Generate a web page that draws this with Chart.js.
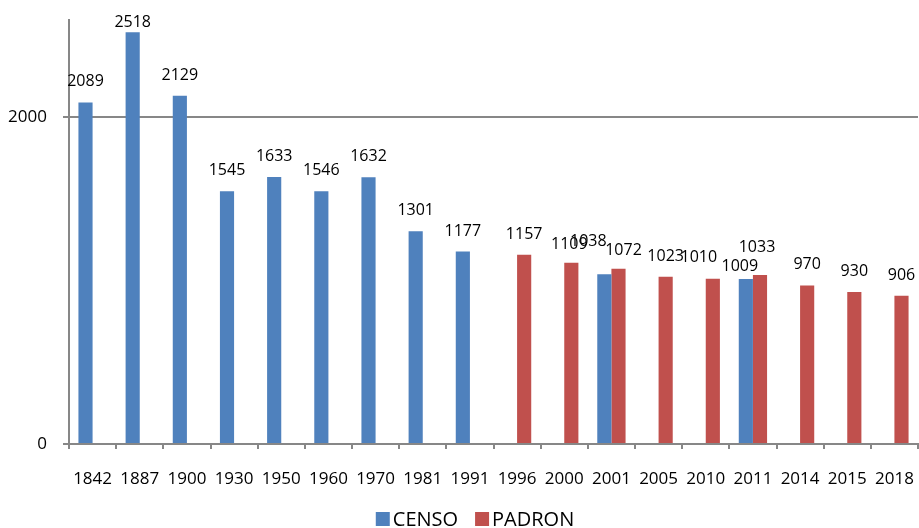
<!DOCTYPE html>
<html>
<head>
<meta charset="utf-8">
<script src="https://cdn.jsdelivr.net/npm/chart.js@4/dist/chart.umd.min.js"></script>
<style>
html,body{margin:0;padding:0;background:#fff;overflow:hidden}
#wrap{width:919px;height:528px;position:relative}
</style>
</head>
<body>
<div id="wrap"><canvas id="c" width="919" height="528"></canvas></div>
<script>
// ---- data ----
const categories = ['1842','1887','1900','1930','1950','1960','1970','1981','1991','1996','2000','2001','2005','2010','2011','2014','2015','2018'];
const censoValues  = [2089,2518,2129,1545,1633,1546,1632,1301,1177,null,null,1038,null,null,1009,null,null,null];
const padronValues = [null,null,null,null,null,null,null,null,null,1157,1109,1072,1023,1010,1033,970,930,906];
const seriesNames = ['CENSO','PADRON'];
const yTickValues = [0, 2000];
const yAxisMax = 2593;

// label nudges (pixels) for data labels that were moved in the original
const labelNudge = {
  'CENSO|1887': [0, 11],
  'CENSO|2001': [-16, -12],
  'PADRON|2000': [-2, 2],
  'PADRON|2001': [5, 2],
  'PADRON|2010': [-14, -1],
  'CENSO|2011': [-6, 8],
  'PADRON|2011': [-3, -7]
};

const FONT = "'Open Sans', 'Noto Sans', sans-serif";
const AXIS_GREY = '#878787';

const dataLabelPlugin = {
  id: 'dataLabels',
  afterDatasetsDraw(chart) {
    const ctx = chart.ctx;
    ctx.save();
    ctx.font = '16px ' + FONT;
    ctx.fillStyle = '#000';
    ctx.textAlign = 'center';
    ctx.textBaseline = 'alphabetic';
    chart.data.datasets.forEach((ds, di) => {
      const meta = chart.getDatasetMeta(di);
      meta.data.forEach((el, i) => {
        const v = ds.data[i];
        if (v === null || v === undefined) return;
        const key = ds.label + '|' + chart.data.labels[i];
        const n = labelNudge[key] || [0, 0];
        ctx.fillText(String(v), el.x + n[0], el.y - 16 + n[1]);
      });
    });
    ctx.restore();
  }
};

const legendPlugin = {
  id: 'bottomLegend',
  afterDraw(chart) {
    const ctx = chart.ctx;
    ctx.save();
    ctx.font = '20px ' + FONT;
    const box = 14, gap = 3, spacing = 17;
    const items = chart.data.datasets.map(ds => ({label: ds.label, color: ds.backgroundColor, w: ctx.measureText(ds.label).width}));
    let total = 0;
    items.forEach((it, k) => { total += box + gap + it.w + (k ? spacing : 0); });
    let x = 475 - total / 2;
    const yTop = 512;
    ctx.textBaseline = 'alphabetic';
    ctx.textAlign = 'left';
    items.forEach(it => {
      ctx.fillStyle = it.color;
      ctx.fillRect(x, yTop, box, box);
      x += box + gap;
      ctx.fillStyle = '#000';
      ctx.fillText(it.label, x, yTop + box);
      x += it.w + spacing;
    });
    ctx.restore();
  }
};

new Chart(document.getElementById('c'), {
  type: 'bar',
  data: {
    labels: categories,
    datasets: [
      {label: seriesNames[0], data: censoValues, backgroundColor: '#4F81BD', categoryPercentage: 0.6, barPercentage: 1.0},
      {label: seriesNames[1], data: padronValues, backgroundColor: '#C0504D', categoryPercentage: 0.6, barPercentage: 1.0}
    ]
  },
  options: {
    responsive: false,
    animation: false,
    devicePixelRatio: 1,
    layout: {padding: {top: 20, left: 0, right: 1, bottom: 34}},
    plugins: {legend: {display: false}, tooltip: {enabled: false}},
    scales: {
      x: {
        offset: true,
        grid: {display: true, drawOnChartArea: false, drawTicks: true, tickLength: 5, color: AXIS_GREY, lineWidth: 2, offset: true},
        border: {display: true, color: AXIS_GREY, width: 2},
        ticks: {color: '#000', font: {family: FONT, size: 17}, padding: 20, maxRotation: 0, autoSkip: false},
        afterFit(s) { s.height = 50; s.paddingLeft = 0; s.paddingRight = 0; }
      },
      y: {
        min: 0,
        max: yAxisMax,
        afterBuildTicks(s) { s.ticks = yTickValues.map(v => ({value: v})); },
        grid: {color: AXIS_GREY, lineWidth: 2, tickLength: 6, drawTicks: true},
        border: {display: true, color: AXIS_GREY, width: 2},
        ticks: {color: '#000', font: {family: FONT, size: 17}, padding: 16, callback: v => String(v)},
        afterFit(s) { s.width = 69; s.paddingTop = 0; s.paddingBottom = 0; }
      }
    }
  },
  plugins: [dataLabelPlugin, legendPlugin]
});
</script>
</body>
</html>
